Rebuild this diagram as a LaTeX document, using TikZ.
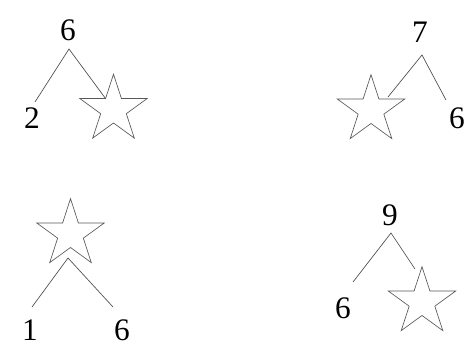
\documentclass[tikz,border=0pt]{standalone}
\usepackage{fontspec}
\setmainfont{Liberation Serif}
\usetikzlibrary{shapes.geometric}

\begin{document}
\begin{tikzpicture}[x=0.75pt,y=-0.75pt]
  \tikzstyle{num}=[inner sep=0pt,font=\fontsize{23.5}{26}\selectfont]
  \tikzstyle{blank}=[draw=black!65,line width=0.5pt,star,star points=5,star point ratio=2.618,minimum size=53pt,inner sep=0pt]
  \tikzstyle{leg}=[draw=black!70,line width=0.5pt]
  \useasboundingbox (0,0) rectangle (475,346);
  % 6 splits into 2 and a star
  \node[num] (whole1) at (68,30) {6};
  \node[num] (part1) at (32,118) {2};
  \node[blank] (star1) at (113.5,109.5) {};
  \coordinate (apex1) at (69,49);
  \coordinate (end1) at (35,102);
  \draw[leg] (end1) -- (apex1) -- (star1.inner point 1);
  % star splits into 1 and 6
  \node[blank] (star2) at (70.5,234) {};
  \node[num] (part2a) at (30,330) {1};
  \node[num] (part2b) at (122,330) {6};
  \coordinate (apex2) at (68,258);
  \coordinate (end2a) at (32,307);
  \coordinate (end2b) at (113,307);
  \draw[leg] (end2a) -- (apex2) -- (end2b);
  % 7 splits into a star and 6
  \node[num] (whole3) at (420,32) {7};
  \node[num] (part3) at (457,118) {6};
  \node[blank] (star3) at (371,110) {};
  \coordinate (apex3) at (422,55);
  \coordinate (end3a) at (388,97);
  \coordinate (end3b) at (446,100);
  \draw[leg] (end3a) -- (apex3) -- (end3b);
  % 9 splits into 6 and a star
  \node[num] (whole4) at (390,215) {9};
  \node[num] (part4) at (343,308) {6};
  \node[blank] (star4) at (422,302) {};
  \coordinate (apex4) at (391,233);
  \coordinate (end4a) at (353,282);
  \coordinate (end4b) at (415,269);
  \draw[leg] (end4a) -- (apex4) -- (end4b);
\end{tikzpicture}
\end{document}
